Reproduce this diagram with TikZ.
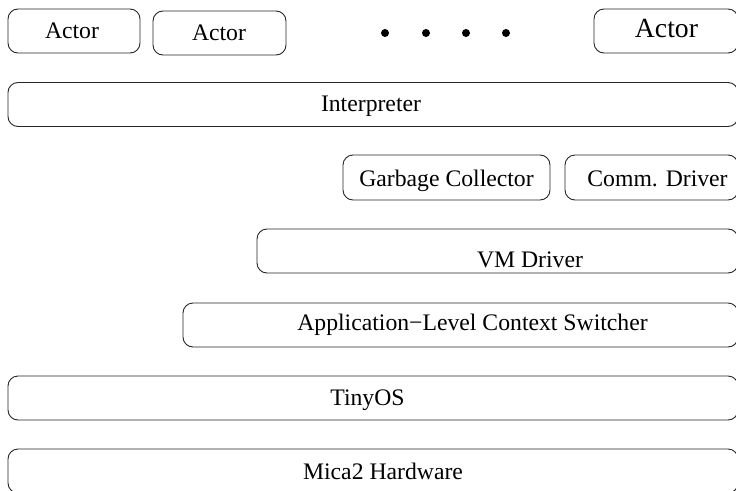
\documentclass[tikz,border=0pt]{standalone}
\usepackage{fontspec}
\setmainfont{Liberation Serif}
\begin{document}
\begin{tikzpicture}[x=1pt,y=-1pt,
  box/.style={draw=black!85, line width=0.9pt, rounded corners=10pt, inner sep=0pt},
  lbl/.style={font=\fontsize{23.7}{28}\selectfont, anchor=base, inner sep=0pt},
  biglbl/.style={font=\fontsize{27.7}{32}\selectfont, anchor=base, inner sep=0pt},
  dot/.style={fill=black, circle, inner sep=0pt, minimum size=8pt}]
\useasboundingbox (0,0) rectangle (736,490);
% boxes
\node[box, minimum width=132pt, minimum height=44pt] (a1) at (74,31) {};
\node[box, minimum width=133pt, minimum height=44pt] (a2) at (219.5,33) {};
\node[box, minimum width=144pt, minimum height=44pt] (a3) at (666,31) {};
\node[box, minimum width=730pt, minimum height=44pt] (interp) at (373,104.5) {};
\node[box, minimum width=207pt, minimum height=45pt] (gc) at (446.5,177.5) {};
\node[box, minimum width=173pt, minimum height=45pt] (comm) at (651.5,177.5) {};
\node[box, minimum width=481pt, minimum height=44pt] (vm) at (497.5,251) {};
\node[box, minimum width=555pt, minimum height=44pt] (app) at (460.5,325) {};
\node[box, minimum width=730pt, minimum height=44pt] (tiny) at (373,398) {};
\node[box, minimum width=730pt, minimum height=44pt] (mica) at (373,471) {};
% texts
\node[lbl] (t1) at (72,38.5) {Actor};
\node[lbl] (t2) at (219,40.5) {Actor};
\node[biglbl] (t3) at (666.5,37) {Actor};
\node[lbl] (ti) at (371,111) {Interpreter};
\node[lbl] (tg) at (446.5,186) {Garbage Collector};
\node[lbl] (tc) at (657.5,186) {Comm. Driver};
\node[lbl] (tv) at (530,267) {VM Driver};
\node[lbl] (ta) at (472.5,330.5) {Application−Level Context Switcher};
\node[lbl] (tt) at (367.5,405) {TinyOS};
\node[lbl] (tm) at (383,479) {Mica2 Hardware};
% dots
\node[dot] (d1) at (385,33) {};
\node[dot] (d2) at (426,33) {};
\node[dot] (d3) at (466,33) {};
\node[dot] (d4) at (506,33) {};
\end{tikzpicture}
\end{document}
